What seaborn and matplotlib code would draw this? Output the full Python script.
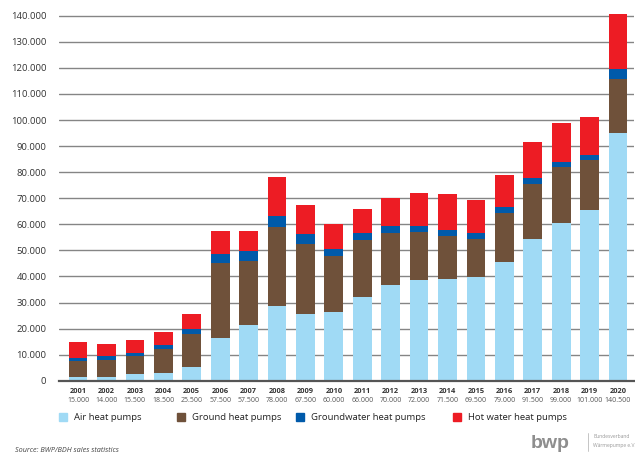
import matplotlib
matplotlib.use("Agg")
import matplotlib.pyplot as plt
import matplotlib.patches as mpatches
import matplotlib.transforms as mtransforms
import numpy as np
import pandas as pd
import seaborn as sns

# Heat pump sales in Germany by type (units)
years = [str(y) for y in range(2001, 2021)]
air = [1500, 1500, 2400, 3000, 5200, 16500, 21200, 28800, 25600, 26200,
       32100, 36600, 38700, 39000, 39600, 45400, 54500, 60400, 65600, 95000]
ground = [6000, 6500, 7100, 9000, 12700, 28500, 24700, 30200, 26700, 21700,
          22000, 19900, 18500, 16500, 14900, 18900, 21100, 21500, 18900, 20700]
groundwater = [1300, 1400, 1300, 1600, 2100, 3700, 3900, 4300, 3900, 2800,
               2500, 2800, 2300, 2300, 2100, 2200, 2200, 2100, 2200, 4000]
hot_water = [6200, 4600, 4700, 4900, 5500, 8800, 7700, 14700, 11300, 9300,
             9400, 10700, 12500, 13700, 12900, 12500, 13700, 15000, 14300, 20800]

series_names = ["Air heat pumps", "Ground heat pumps",
                "Groundwater heat pumps", "Hot water heat pumps"]
series_colors = ["#A0DAF5", "#6F513A", "#005AAA", "#ED1C24"]
y_ticks = list(range(0, 140001, 10000))


def de_fmt(v):
    return f"{int(round(v)):,}".replace(",", ".")


sns.set_theme(style="white")
plt.rcParams["font.family"] = ["Open Sans", "DejaVu Sans"]

df = pd.DataFrame({"year": years, "air": air, "ground": ground,
                   "groundwater": groundwater, "hot_water": hot_water})
cols = ["air", "ground", "groundwater", "hot_water"]
cum = df[cols].cumsum(axis=1)
totals = cum["hot_water"].tolist()

fig = plt.figure(figsize=(6.35, 4.55), dpi=100)
ax = fig.add_axes([0.0929, 0.1633, 0.9055, 0.8077])

# stacked bars: draw the cumulative heights from the top layer down
for col, color in zip(reversed(cols), reversed(series_colors)):
    sns.barplot(x=df["year"], y=cum[col], color=color, width=0.66,
                saturation=1, errorbar=None, linewidth=0, ax=ax, zorder=2)

ax.set_xlim(-0.67, 19.56)
ax.set_ylim(0, 141000)
ax.set_yticks(y_ticks)
ax.set_yticklabels([de_fmt(v) for v in y_ticks], fontsize=6.8, color="#333333")
ax.set_axisbelow(True)
ax.yaxis.grid(True, color="#858585", linewidth=1.0)
ax.xaxis.grid(False)
for side in ["top", "right", "left"]:
    ax.spines[side].set_visible(False)
ax.spines["bottom"].set_color("#555555")
ax.spines["bottom"].set_linewidth(1.6)
ax.spines["bottom"].set_zorder(3)
ax.tick_params(axis="y", length=0, pad=9)
ax.tick_params(axis="x", length=0, pad=5)
ax.set_xlabel("")
ax.set_ylabel("")

ax.set_xticks(range(len(years)))
ax.set_xticklabels(years, fontsize=5.4, fontweight="bold", color="#333333")

# yearly totals below the year labels
trans = mtransforms.blended_transform_factory(ax.transData, ax.transAxes)
for i, t in enumerate(totals):
    ax.text(i, -0.054, de_fmt(t), transform=trans, ha="center", va="center",
            fontsize=5.0, color="#555555")

# legend entries, each placed separately
legend_x = [59 / 635, 177 / 635, 296 / 635, 453 / 635]
for name, color, lx in zip(series_names, series_colors, legend_x):
    fig.legend(handles=[mpatches.Patch(color=color, label=name)],
               loc="center left", bbox_to_anchor=(lx, 1 - 417.5 / 455),
               frameon=False, fontsize=6.8, handlelength=0.8,
               handleheight=0.85, handletextpad=0.75, borderpad=0,
               borderaxespad=0, labelcolor="#222222")

fig.text(15 / 635, 1 - 450 / 455, "Source: BWP/BDH sales statistics",
         fontsize=5.2, style="italic", color="#444444", ha="left", va="center")

# association logo
fig.text(531 / 635, 1 - 447.5 / 455, "bwp", fontsize=14, fontweight="bold",
         color="#8E8E8E", ha="left", va="baseline",
         family=["Liberation Sans", "DejaVu Sans"])
fig.add_artist(plt.Line2D([588 / 635, 588 / 635], [1 - 433 / 455, 1 - 451 / 455],
                          color="#BBBBBB", linewidth=0.6))
fig.text(593 / 635, 1 - 437 / 455, "Bundesverband", fontsize=3.6,
         color="#999999", ha="left", va="center")
fig.text(593 / 635, 1 - 445 / 455, "Wärmepumpe e.V.", fontsize=3.6,
         color="#999999", ha="left", va="center")

fig.savefig("out.png", dpi=100)
